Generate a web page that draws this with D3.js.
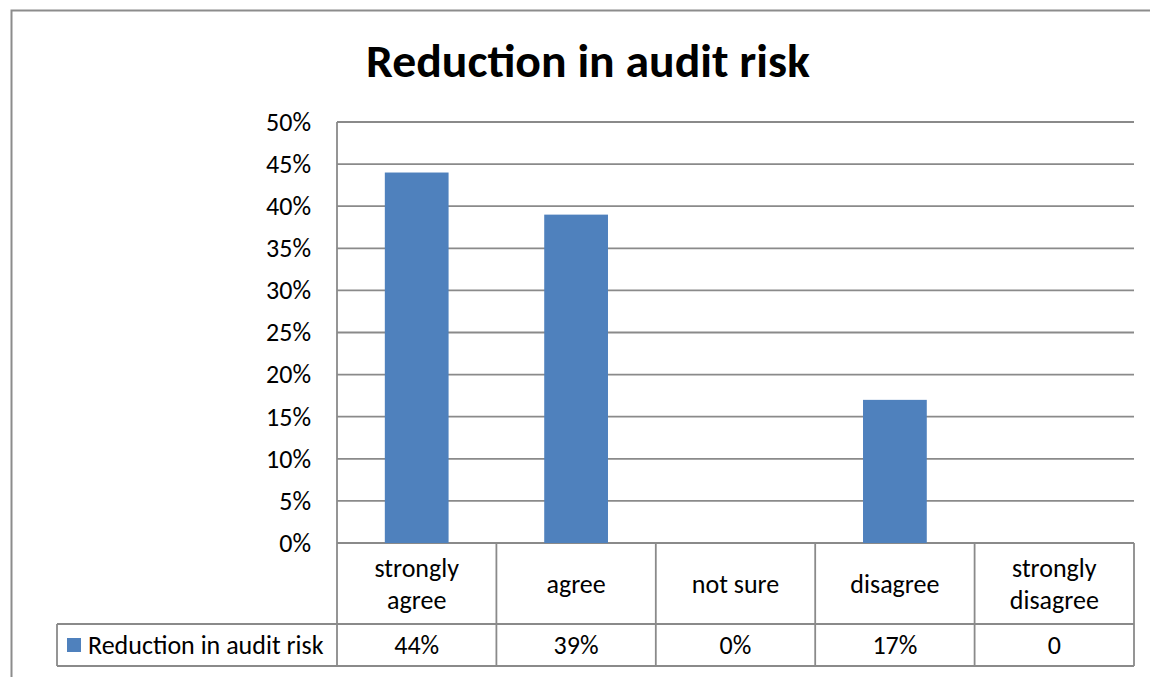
<!DOCTYPE html>
<html><head><meta charset="utf-8">
<script src="https://cdn.jsdelivr.net/npm/d3@7"></script>
<style>body{margin:0;background:#fff}svg{display:block}</style>
</head><body>
<svg id="c" width="1150" height="677"></svg>
<script>
const categories = [["strongly","agree"],["agree"],["not sure"],["disagree"],["strongly","disagree"]];
const values = [0.44, 0.39, 0.00, 0.17, 0.00];
const tableLabels = ["44%","39%","0%","17%","0"];
const seriesName = "Reduction in audit risk";
const yTicks = [0,0.05,0.10,0.15,0.20,0.25,0.30,0.35,0.40,0.45,0.50];

const svg = d3.select("#c");
const font = "Carlito, 'Open Sans', 'Noto Sans', sans-serif";
const grid = "#8a8a8a";
const fs = 26;
const L = 337, R = 1134, T = 122, B = 543;
const row1 = 624, row2 = 666, legL = 57;

svg.append("rect").attr("x",11.5).attr("y",10.5).attr("width",1150).attr("height",700)
  .attr("fill","none").attr("stroke","#8c8c8c").attr("stroke-width",2);

svg.append("text").attr("x",588).attr("y",77).attr("text-anchor","middle")
  .attr("font-family",font).attr("font-weight","bold").attr("font-size",46)
  .attr("textLength",444).attr("lengthAdjust","spacingAndGlyphs")
  .text("Reduction in audit risk");

const x = d3.scaleBand().domain(d3.range(categories.length)).range([L,R]).paddingInner(0).paddingOuter(0);
const y = d3.scaleLinear().domain([0,0.5]).range([B,T]);

svg.append("g").selectAll("line").data(yTicks).join("line")
  .attr("x1",L).attr("x2",R).attr("y1",d=>y(d)).attr("y2",d=>y(d))
  .attr("stroke",grid).attr("stroke-width",1.8);
svg.append("line").attr("x1",L).attr("x2",L).attr("y1",T).attr("y2",row2)
  .attr("stroke",grid).attr("stroke-width",1.8);

const yAxis = d3.axisLeft(y).tickValues(yTicks).tickFormat(d3.format(".0%")).tickSize(0).tickPadding(26);
const ga = svg.append("g").attr("transform",`translate(${L},0)`).call(yAxis);
ga.select(".domain").remove();
ga.selectAll("text").attr("font-family",font).attr("font-size",fs).attr("fill","#000");

const bw = x.bandwidth()/2.5;
svg.append("g").selectAll("rect").data(values).join("rect")
  .attr("x",(d,i)=>x(i)+x.bandwidth()/2-bw/2).attr("width",bw)
  .attr("y",d=>y(d)).attr("height",d=>B-y(d)).attr("fill","#4f81bd");

const tg = svg.append("g");
tg.append("line").attr("x1",legL).attr("x2",R).attr("y1",row1).attr("y2",row1).attr("stroke",grid).attr("stroke-width",1.8);
tg.append("line").attr("x1",legL).attr("x2",R).attr("y1",row2).attr("y2",row2).attr("stroke",grid).attr("stroke-width",1.8);
tg.append("line").attr("x1",legL).attr("x2",legL).attr("y1",row1).attr("y2",row2).attr("stroke",grid).attr("stroke-width",1.8);
tg.selectAll("line.v").data(d3.range(1,categories.length+1)).join("line").attr("class","v")
  .attr("x1",i=>x(i-1)+x.bandwidth()).attr("x2",i=>x(i-1)+x.bandwidth())
  .attr("y1",B).attr("y2",row2).attr("stroke",grid).attr("stroke-width",1.8);

categories.forEach((c,i)=>{
  const cx = x(i)+x.bandwidth()/2;
  const mid = (B+row1)/2;
  const lh = 32;
  c.forEach((t,j)=>{
    tg.append("text").attr("x",cx).attr("y",mid+(j-(c.length-1)/2)*lh).attr("dy","0.35em")
      .attr("text-anchor","middle").attr("font-family",font).attr("font-size",fs).text(t);
  });
  tg.append("text").attr("x",cx).attr("y",(row1+row2)/2).attr("dy","0.35em")
    .attr("text-anchor","middle").attr("font-family",font).attr("font-size",fs).text(tableLabels[i]);
});

tg.append("rect").attr("x",67).attr("y",638).attr("width",14).attr("height",14).attr("fill","#4f81bd");
tg.append("text").attr("x",88).attr("y",(row1+row2)/2).attr("dy","0.35em")
  .attr("font-family",font).attr("font-size",fs).text(seriesName);
</script>
</body></html>
